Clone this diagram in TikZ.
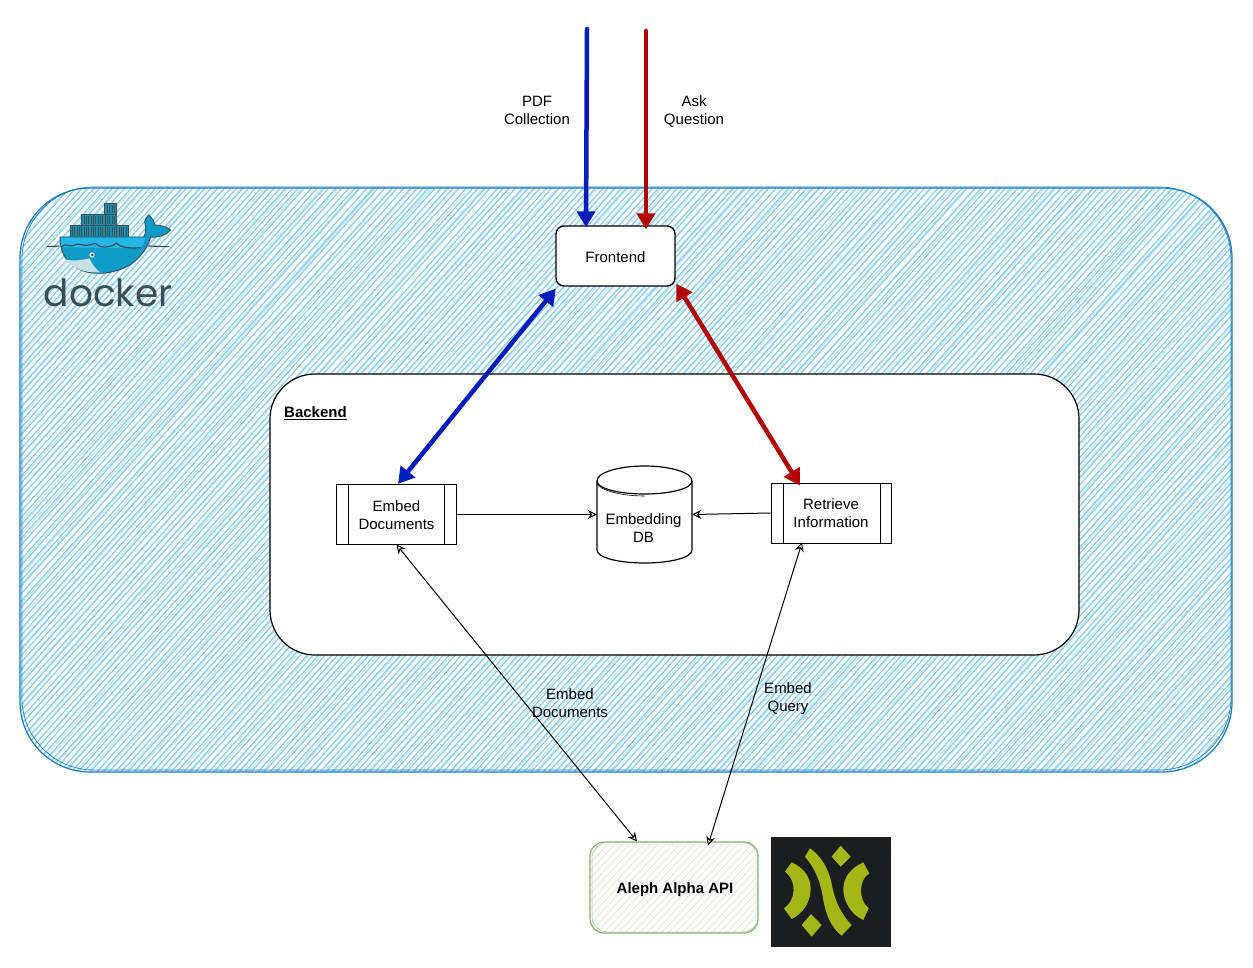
\documentclass[tikz,border=0pt]{standalone}
\usepackage{fontspec}
\setmainfont{Liberation Sans}
\newfontfamily\dockerfont{Poppins}
\usetikzlibrary{arrows.meta}
\definecolor{dockerline}{HTML}{1B7DBB}
\definecolor{dockerhatch}{HTML}{84CBEE}
\definecolor{dockerpale}{HTML}{CDEAF8}
\definecolor{bluearrow}{HTML}{001DBC}
\definecolor{redarrow}{HTML}{B20000}
\definecolor{greenline}{HTML}{82B366}
\definecolor{greenhatch}{HTML}{E2EFDC}
\definecolor{logobg}{HTML}{1C1D1F}
\definecolor{logoyellow}{HTML}{A3B816}
\definecolor{dockerslate}{HTML}{394D54}
\definecolor{whaleblue}{HTML}{0F9BC8}
\definecolor{whalelight}{HTML}{23B8E6}
\definecolor{whalebelly}{HTML}{C6E0E6}
\definecolor{boxteal}{HTML}{1C8FAE}
\tikzset{
  labeltext/.style={font=\fontsize{15}{18}\selectfont,align=center,text=black,inner sep=0pt},
  sketchbox/.style={draw=black,fill=white,line width=1.4pt,rounded corners=8pt,minimum width=119pt,minimum height=60pt,inner sep=0pt},
  procbox/.style={draw=black,fill=white,minimum width=120pt,minimum height=60pt,inner sep=0pt},
  thickblue/.style={draw=bluearrow,line width=4.5pt,line cap=round},
  thickred/.style={draw=redarrow,line width=4.5pt,line cap=round},
  bigtip/.style={-{Triangle[length=16pt,width=18pt]}},
  bigboth/.style={{Triangle[length=16pt,width=18pt]}-{Triangle[length=16pt,width=18pt]}},
  thinline/.style={draw=black,line width=1pt},
  thintip/.style={-{Stealth[length=9pt,width=9pt,open,fill=white]}},
  thinboth/.style={{Stealth[length=9pt,width=9pt,open,fill=white]}-{Stealth[length=9pt,width=9pt,open,fill=white]}},
  crate/.style={draw=dockerslate,line width=.8pt,fill=boxteal},
}
\begin{document}
\begin{tikzpicture}[x=1pt,y=-1pt]
\useasboundingbox (0,0) rectangle (1253,968);
\fill[white] (0,0) rectangle (1253,968);
\pgfmathsetseed{7}
% Docker container area
\begin{scope}
  \clip[rounded corners=70pt] (20,188) rectangle (1232,772);
  \foreach \i in {0,...,150}{
    \pgfmathsetmacro{\xa}{-520+\i*12.4+5*rand}
    \pgfmathsetmacro{\xb}{\xa+530+8*rand}
    \draw[dockerpale,line width=1.6pt] (\xa,775) -- (\xb,185);
  }
  \foreach \i in {0,...,300}{
    \pgfmathsetmacro{\xa}{-520+\i*6.2+.5*rand}
    \pgfmathsetmacro{\xb}{\xa+530+.8*rand}
    \draw[dockerhatch,line width=1.15pt] (\xa,775) -- (\xb,185);
  }
\end{scope}
\draw[dockerline,line width=1.2pt,rounded corners=70pt] (20,188) rectangle (1232,772);
\draw[dockerline,line width=.7pt,rounded corners=72pt] (22,187) rectangle (1231,770);
% Backend area
\node[draw=black,fill=white,line width=1.2pt,rounded corners=45pt,minimum width=809pt,minimum height=281pt,inner sep=0pt] (backend) at (674.5,514.5) {};
\node[labeltext,font=\fontsize{15}{18}\selectfont\bfseries,anchor=west] (backendlabel) at (284,413) {\underline{Backend}};
% Docker logo
\begin{scope}[shift={(20,180)},x=.3333pt,y=-.3333pt]
  \foreach \xx/\yy/\ww in {150/137/35,185/137/35,220/137/35,255/137/35,290/137/35,185/103/35,220/103/35,255/103/35,253/70/37}{
    \draw[crate] (\xx,\yy) rectangle ++(\ww,34);
    \foreach \k in {1,2,3,4}{\draw[dockerslate,line width=.35pt] (\xx+\k*\ww/5,\yy+4) -- ++(0,26);}
  }
  \fill[whaleblue,draw=dockerslate,line width=.9pt] (120,171) -- (372,171) .. controls (378,160) and (378,140) .. (374,125) .. controls (376,118) and (380,110) .. (386,105) .. controls (395,112) and (403,125) .. (405,135) .. controls (420,135) and (440,140) .. (452,150) .. controls (440,165) and (415,172) .. (392,172) .. controls (380,210) and (350,255) .. (290,272) .. controls (240,287) and (190,280) .. (160,258) .. controls (130,236) and (120,205) .. (120,171) -- cycle;
  \fill[whalelight] (122,173) -- (375,173) .. controls (373,185) and (368,195) .. (362,203) .. controls (300,205) and (180,203) .. (124,201) -- cycle;
  \draw[dockerslate,line width=1.2pt] (80,200) -- (118,198) (385,198) -- (447,200);
  \draw[dockerslate,line width=1.2pt] (124,201) .. controls (135,185) and (150,205) .. (165,195) .. controls (175,185) and (190,205) .. (225,190) .. controls (240,205) and (265,205) .. (290,190) .. controls (305,205) and (335,205) .. (362,203);
  \fill[whalebelly] (135,238) .. controls (160,245) and (190,240) .. (208,235) .. controls (215,250) and (225,265) .. (240,277) .. controls (195,280) and (155,265) .. (135,238) -- cycle;
  \fill[white] (216,225) circle (8);
  \fill[dockerslate] (217,225) circle (4.5);
\end{scope}
\node[inner sep=0pt,font=\dockerfont\fontsize{37.5}{38}\selectfont,text=dockerslate,anchor=center] (dockerword) at (108,293) {docker};
% Main boxes
\node[sketchbox] (frontend) at (615.5,256) {};
\node[labeltext] (frontendlabel) at (615.5,257) {Frontend};
\node[procbox,line width=1.3pt] (embed) at (396.5,514.5) {};
\node[labeltext] (embedboxlabel) at (396.5,515.5) {Embed\\Documents};
\node[procbox,line width=.9pt] (retrieve) at (831,513) {};
\node[labeltext] (retrievelabel) at (831,513) {Retrieve\\Information};
\draw[black,line width=1.1pt] (348.5,484.5) -- (348.5,544.5) (444.5,484.5) -- (444.5,544.5);
\draw[black,line width=.9pt] (783,483) -- (783,543) (880,483) -- (880,543);
% Embedding DB cylinder
\draw[black,fill=white,line width=1.2pt] (597,481) .. controls (597,472) and (620,466) .. (644.5,466) .. controls (669,466) and (692,472) .. (692,481) -- (692,550) .. controls (692,558) and (669,563) .. (644.5,563) .. controls (620,563) and (597,558) .. (597,550) -- cycle;
\draw[black,line width=1.2pt] (597,481) .. controls (597,489) and (620,494) .. (644.5,494) .. controls (669,494) and (692,489) .. (692,481);
\draw[black,line width=.6pt] (597,483) .. controls (599,490) and (620,496) .. (644.5,496);
\node[labeltext,minimum width=95pt,minimum height=97pt] (db) at (644.5,514.5) {};
\node[labeltext] (dblabel) at (643.5,528) {Embedding\\DB};
% Aleph Alpha box
\begin{scope}
  \clip[rounded corners=14pt] (590,842) rectangle (758,933);
  \foreach \i in {0,...,40}{
    \pgfmathsetmacro{\xa}{500+\i*7.2}
    \draw[greenhatch,line width=1.3pt] (\xa,936) -- (\xa+90,840);
  }
\end{scope}
\node[draw=greenline,line width=1.2pt,rounded corners=14pt,minimum width=168pt,minimum height=91pt,inner sep=0pt] (aleph) at (674,887.5) {};
\draw[greenline!70,line width=.5pt,rounded corners=16pt] (592,842.5) rectangle (758.5,932);
\node[labeltext,font=\fontsize{15}{18}\selectfont\bfseries] (alephlabel) at (675,890) {Aleph Alpha API};
% Aleph Alpha logo
\fill[logobg] (771,837) rectangle (891,947);
\begin{scope}[shift={(580,825)},x=.3333pt,y=-.3333pt]
  \fill[logoyellow] (782,62) -- (812,95) -- (782,125) -- (755,95) -- cycle;
  \fill[logoyellow] (693,267) -- (725,300) -- (695,335) -- (665,300) -- cycle;
  \fill[logoyellow] (635,112) .. controls (675,130) and (692,160) .. (692,192) .. controls (692,230) and (670,265) .. (635,282) -- (612,250) .. controls (650,225) and (650,165) .. (615,140) -- cycle;
  \fill[logoyellow] (850,112) .. controls (810,130) and (790,160) .. (790,192) .. controls (790,230) and (815,270) .. (850,285) -- (866,250) .. controls (835,225) and (835,165) .. (868,145) -- cycle;
  \fill[logoyellow] (690,70) .. controls (725,95) and (745,130) .. (755,175) .. controls (765,235) and (790,275) .. (815,300) -- (785,332) .. controls (755,310) and (738,270) .. (730,225) .. controls (722,170) and (705,130) .. (675,95) -- cycle;
\end{scope}
% Free ends of the two input arrows
\coordinate (pdfstart) at (587,29);
\coordinate (askstart) at (646,31);
% Connectors
\draw[thickblue,bigtip] (pdfstart) -- ([xshift=-29.5pt,yshift=-2pt]frontend.north);
\draw[thickred,bigtip] (askstart) -- ([xshift=30.5pt,yshift=-4pt]frontend.north);
\draw[thickblue,bigboth] ([yshift=-2pt,xshift=.5pt]frontend.south west) -- ([xshift=1.5pt]embed.north);
\draw[thickred,bigboth] ([xshift=.5pt,yshift=3pt]frontend.south east) -- ([xshift=-31pt,yshift=-3pt]retrieve.north);
\draw[thinline,thintip] (embed.east) -- (db.west);
\draw[thinline,thintip] (retrieve.west) -- (db.east);
\draw[thinline,thinboth] ([yshift=.5pt]embed.south) -- ([xshift=-37pt]aleph.north);
\draw[thinline,thinboth] ([xshift=-29pt,yshift=1pt]retrieve.south) -- ([xshift=34pt,yshift=-4pt]aleph.north);
% Connector labels
\node[labeltext] (pdflabel) at (537,110) {PDF\\Collection};
\node[labeltext] (asklabel) at (694,111) {Ask\\Question};
\node[labeltext] (embedlabel) at (570,703) {Embed\\Documents};
\node[labeltext] (querylabel) at (788,699) {Embed\\Query};
\end{tikzpicture}
\end{document}
